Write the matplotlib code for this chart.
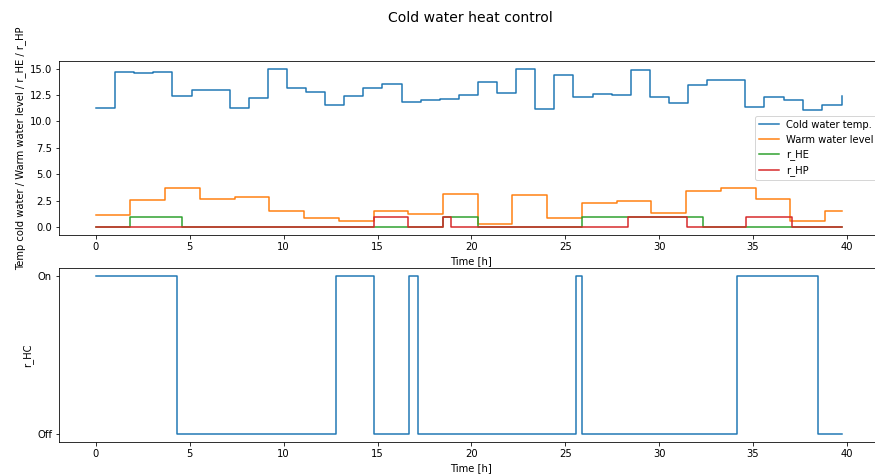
import numpy as np
import matplotlib
matplotlib.use("Agg")
import matplotlib.pyplot as plt

# Cold water temperature, sampled on a regular grid (hours)
cold_t = [0.00, 1.02, 2.04, 3.05, 4.07, 5.09, 6.11, 7.12, 8.14, 9.16,
          10.18, 11.19, 12.21, 13.23, 14.25, 15.26, 16.28, 17.30, 18.32, 19.33,
          20.35, 21.37, 22.39, 23.40, 24.42, 25.44, 26.46, 27.47, 28.49, 29.51,
          30.53, 31.54, 32.56, 33.58, 34.60, 35.61, 36.63, 37.65, 38.67, 39.72]
cold_v = [11.25, 14.69, 14.56, 14.69, 12.44, 13.0, 13.0, 11.25, 12.25, 14.98,
          13.2, 12.79, 11.55, 12.37, 13.14, 13.52, 11.8, 12.0, 12.12, 12.5,
          13.7, 12.73, 14.98, 11.2, 14.37, 12.31, 12.63, 12.54, 14.91, 12.28,
          11.73, 13.42, 13.96, 13.9, 11.33, 12.28, 12.03, 11.11, 11.52, 12.37]

# Warm water level (change times and values)
warm_t = [0, 1.83, 3.67, 5.55, 7.4, 9.23, 11.09, 12.96, 14.8, 16.65, 18.48,
          20.34, 22.19, 24.05, 25.9, 27.78, 29.55, 31.45, 33.32, 35.16, 36.99,
          38.85, 39.72]
warm_v = [1.14, 2.6, 3.7, 2.63, 2.85, 1.52, 0.85, 0.54, 1.52, 1.27, 3.16,
          0.25, 3.04, 0.85, 2.31, 2.47, 1.3, 3.39, 3.7, 2.63, 0.6,
          1.55, 1.55]

# r_HE
he_t = [0, 1.83, 4.6, 18.48, 20.34, 25.9, 32.32, 39.72]
he_v = [0, 1, 0, 1, 0, 1, 0, 0]

# r_HP
hp_t = [0, 14.8, 16.65, 18.48, 18.9, 28.36, 31.48, 34.65, 37.08, 39.72]
hp_v = [0, 1, 0, 1, 0, 1, 0, 1, 0, 0]

# r_HC
hc_t = [0, 4.31, 12.78, 14.79, 16.70, 17.13, 25.6, 25.91, 34.13, 38.46, 39.72]
hc_v = [1, 0, 1, 0, 1, 0, 1, 0, 1, 0, 0]
hc_ticks = [0, 1]
hc_ticklabels = ["Off", "On"]

W, H = 875, 475
DPI = 72
fig = plt.figure(figsize=(W / DPI, H / DPI), dpi=DPI)

L = 59 / W
R = 883 / W
ax1 = fig.add_axes([L, 1 - 235 / H, R - L, (235 - 61) / H])
ax2 = fig.add_axes([L, 1 - 442 / H, R - L, (442 - 268) / H])

ax1.step(cold_t, cold_v, where="post", label="Cold water temp.")
ax1.step(warm_t, warm_v, where="post", label="Warm water level")
ax1.step(he_t, he_v, where="post", label="r_HE")
ax1.step(hp_t, hp_v, where="post", label="r_HP")
ax1.set_xlabel("Time [h]")
ax1.set_ylabel("Temp cold water / Warm water level / r_HE / r_HP")
ax1.set_xlim(-1.97, 41.93)
ax1.legend(loc="center right")

ax2.step(hc_t, hc_v, where="post")
ax2.set_yticks(hc_ticks)
ax2.set_yticklabels(hc_ticklabels)
ax2.set_xlabel("Time [h]")
ax2.set_ylabel("r_HC")
ax2.set_xlim(ax1.get_xlim())

fig.text(470 / W, 1 - 18 / H, "Cold water heat control", ha="center", va="center", fontsize=14)

fig.savefig("out.png", dpi=DPI)
